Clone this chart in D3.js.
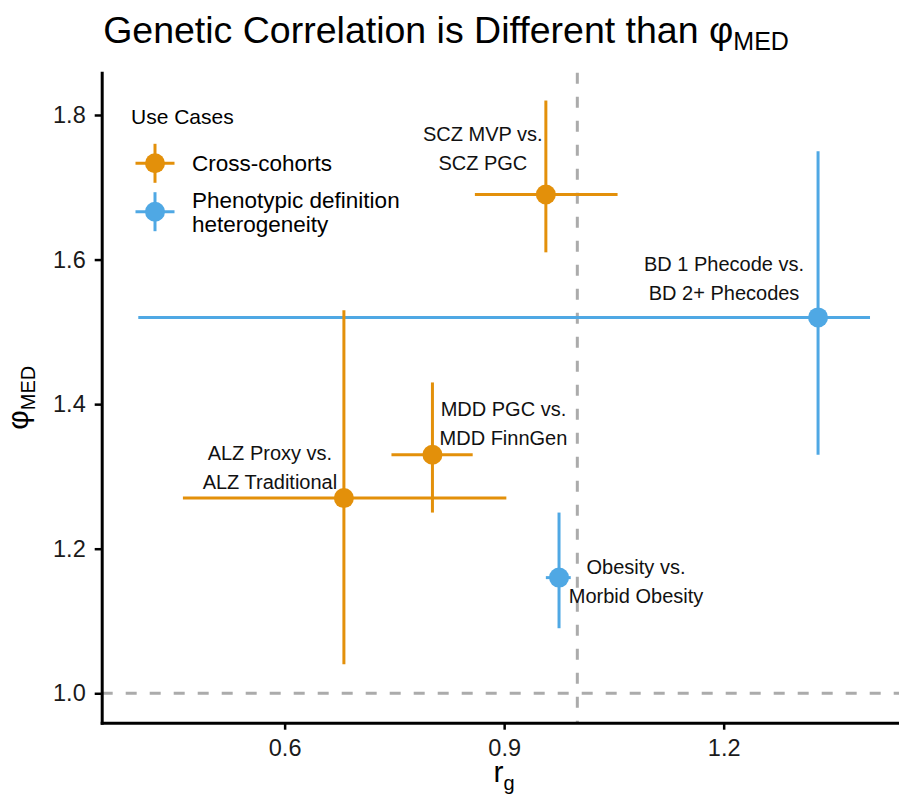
<!DOCTYPE html>
<html>
<head>
<meta charset="utf-8">
<script src="https://cdn.jsdelivr.net/npm/d3@7"></script>
<style>
  body { margin: 0; background: #fff; }
  text { font-family: "Liberation Sans", Arial, Helvetica, sans-serif; }
</style>
</head>
<body>
<div id="chart"></div>
<script>
"use strict";
// data
const pairLabels = [
    ["SCZ MVP vs.", "SCZ PGC"],
    ["BD 1 Phecode vs.", "BD 2+ Phecodes"],
    ["MDD PGC vs.", "MDD FinnGen"],
    ["ALZ Proxy vs.", "ALZ Traditional"],
    ["Obesity vs.", "Morbid Obesity"]
];
const useCases = ["Cross-cohorts", "Phenotypic definition heterogeneity", "Cross-cohorts", "Cross-cohorts", "Phenotypic definition heterogeneity"];
const rg = [0.957, 1.329, 0.802, 0.681, 0.975];
const rgLow = [0.86, 0.40, 0.746, 0.461, 0.957];
const rgHigh = [1.055, 1.40, 0.857, 0.903, 0.991];
const phi = [1.69, 1.52, 1.33, 1.27, 1.16];
const phiLow = [1.61, 1.33, 1.25, 1.04, 1.09];
const phiHigh = [1.82, 1.75, 1.43, 1.53, 1.25];
const xTicks = [0.6, 0.9, 1.2];
const yTicks = [1.0, 1.2, 1.4, 1.6, 1.8];
const legendCases = ["Cross-cohorts", "Phenotypic definition heterogeneity"];
const legendLines = [["Cross-cohorts"], ["Phenotypic definition", "heterogeneity"]];

// label placement (pixel offsets from the point, like ggrepel nudges)
const labelOffsets = [[-63, -54], [-94, -46], [71, -39], [-74, -38], [77, -4]];

const width = 899, height = 796;
const panel = { left: 101.7, right: 906.6, top: 72.7, bottom: 722.7 };

const colors = d3.scaleOrdinal()
    .domain(legendCases)
    .range(["#E3900A", "#4FA8E4"]);

const xScale = d3.scaleLinear().domain([0.35, 1.45]).range([panel.left, panel.right]);
const yScale = d3.scaleLinear().domain([0.9593, 1.8585]).range([panel.bottom, panel.top]);

const data = rg.map(function (d, i) {
    return {
        label: pairLabels[i],
        useCase: useCases[i],
        x: d, xmin: rgLow[i], xmax: rgHigh[i],
        y: phi[i], ymin: phiLow[i], ymax: phiHigh[i],
        off: labelOffsets[i]
    };
});

const svg = d3.select("#chart")
    .append("svg")
    .attr("width", width)
    .attr("height", height);

// reference lines
const dashColor = "#ababab";
svg.append("line")
    .attr("x1", panel.left).attr("x2", width)
    .attr("y1", yScale(1)).attr("y2", yScale(1))
    .attr("stroke", dashColor).attr("stroke-width", 3)
    .attr("stroke-dasharray", "11,13");
svg.append("line")
    .attr("x1", xScale(1)).attr("x2", xScale(1))
    .attr("y1", panel.top).attr("y2", panel.bottom)
    .attr("stroke", dashColor).attr("stroke-width", 3)
    .attr("stroke-dasharray", "11,13");

// error bars
const marks = svg.append("g");
marks.selectAll(".hbar").data(data).enter()
    .append("line")
    .attr("class", "hbar")
    .attr("x1", d => xScale(d.xmin)).attr("x2", d => xScale(d.xmax))
    .attr("y1", d => yScale(d.y)).attr("y2", d => yScale(d.y))
    .attr("stroke", d => colors(d.useCase)).attr("stroke-width", 3);
marks.selectAll(".vbar").data(data).enter()
    .append("line")
    .attr("class", "vbar")
    .attr("x1", d => xScale(d.x)).attr("x2", d => xScale(d.x))
    .attr("y1", d => yScale(d.ymin)).attr("y2", d => yScale(d.ymax))
    .attr("stroke", d => colors(d.useCase)).attr("stroke-width", 3);
marks.selectAll(".pt").data(data).enter()
    .append("circle")
    .attr("class", "pt")
    .attr("cx", d => xScale(d.x))
    .attr("cy", d => yScale(d.y))
    .attr("r", 10)
    .attr("fill", d => colors(d.useCase));

// point labels
const labels = svg.append("g");
data.forEach(function (d) {
    const t = labels.append("text")
        .attr("text-anchor", "middle")
        .attr("font-size", 20)
        .attr("fill", "#111");
    d.label.forEach(function (line, j) {
        t.append("tspan")
            .attr("x", xScale(d.x) + d.off[0])
            .attr("y", yScale(d.y) + d.off[1] + j * 29)
            .text(line);
    });
});

// axes
const xAxis = svg.append("g")
    .attr("transform", `translate(0,${panel.bottom})`)
    .call(d3.axisBottom(xScale).tickValues(xTicks).tickFormat(d3.format(".1f"))
        .tickSize(7).tickSizeOuter(0).tickPadding(10));
const yAxis = svg.append("g")
    .attr("transform", `translate(${panel.left},0)`)
    .call(d3.axisLeft(yScale).tickValues(yTicks).tickFormat(d3.format(".1f"))
        .tickSize(7).tickSizeOuter(0).tickPadding(9));
[xAxis, yAxis].forEach(function (axis) {
    axis.select(".domain").attr("stroke", "#000").attr("stroke-width", 3).attr("stroke-linecap", "square");
    axis.selectAll(".tick line").attr("stroke", "#000").attr("stroke-width", 2.5);
    axis.selectAll(".tick text")
        .attr("fill", "#1a1a1a")
        .style("font-size", "23.5px")
        .style("font-family", "'Liberation Sans', Arial, Helvetica, sans-serif");
});

// axis titles
const xTitle = svg.append("text")
    .attr("x", (panel.left + panel.right) / 2)
    .attr("y", 782)
    .attr("text-anchor", "middle")
    .attr("font-size", 30)
    .attr("fill", "#000");
xTitle.append("tspan").text("r");
xTitle.append("tspan").attr("font-size", 20).attr("dy", 8).text("g");

const yTitle = svg.append("text")
    .attr("transform", `translate(28,${(panel.top + panel.bottom) / 2}) rotate(-90)`)
    .attr("text-anchor", "middle")
    .attr("font-size", 30)
    .attr("fill", "#000");
yTitle.append("tspan").text("φ");
yTitle.append("tspan").attr("font-size", 20).attr("dy", 7).text("MED");

// title
const title = svg.append("text")
    .attr("x", 446)
    .attr("y", 43)
    .attr("text-anchor", "middle")
    .attr("font-size", 37.5)
    .attr("fill", "#000");
title.append("tspan").text("Genetic Correlation is Different than φ");
title.append("tspan").attr("font-size", 25).attr("dy", 7).text("MED");

// legend
const legend = svg.append("g");
legend.append("text")
    .attr("x", 131).attr("y", 123.5)
    .attr("font-size", 21)
    .attr("fill", "#000")
    .text("Use Cases");
const keyY = [163.3, 211.7];
legendCases.forEach(function (c, i) {
    const g = legend.append("g").attr("transform", `translate(155,${keyY[i]})`);
    g.append("line").attr("x1", -19.5).attr("x2", 19.5)
        .attr("stroke", colors(c)).attr("stroke-width", 3);
    g.append("line").attr("y1", -19.5).attr("y2", 19.5)
        .attr("stroke", colors(c)).attr("stroke-width", 3);
    g.append("circle").attr("r", 10).attr("fill", colors(c));
    const t = legend.append("text")
        .attr("font-size", 22.5)
        .attr("fill", "#000");
    const lines = legendLines[i];
    lines.forEach(function (line, j) {
        t.append("tspan")
            .attr("x", 192)
            .attr("y", keyY[i] + 8 - (lines.length - 1) * 12 + j * 24)
            .text(line);
    });
});
</script>
</body>
</html>
